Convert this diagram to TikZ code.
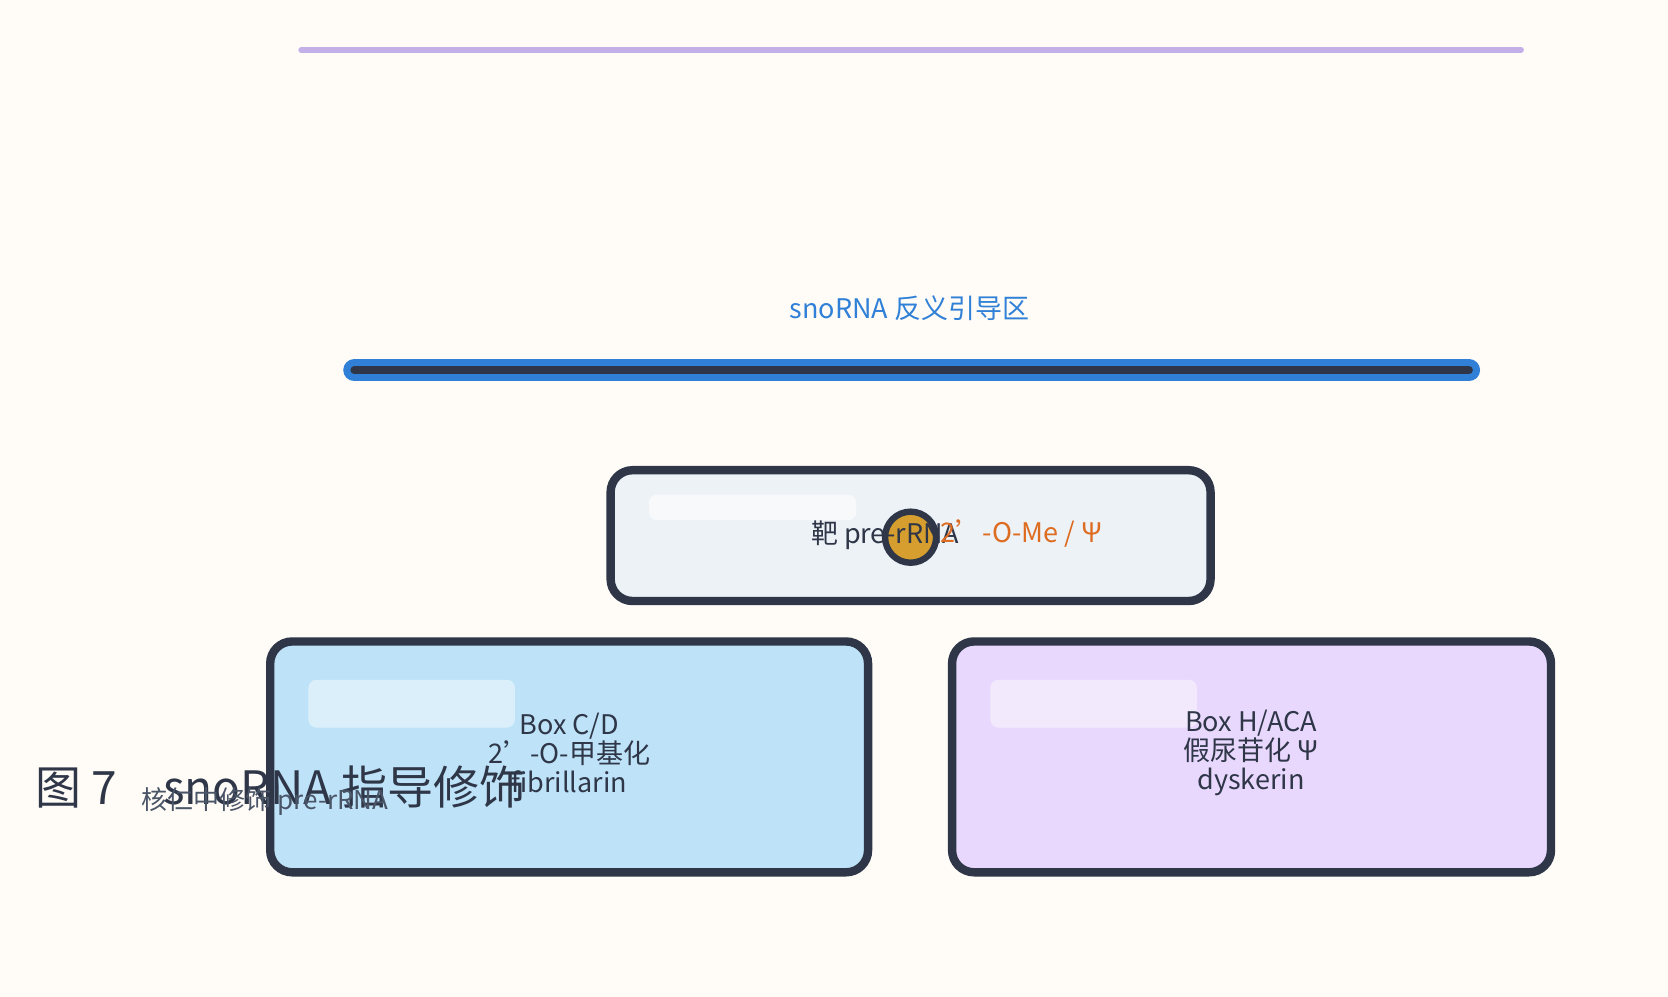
\documentclass[tikz,border=0pt]{standalone}
\usepackage{fontspec}
\setmainfont{Noto Sans CJK SC}
\usetikzlibrary{positioning}
\definecolor{bgcol}{HTML}{FFFCF7}
\definecolor{inkcol}{HTML}{2E3648}
\definecolor{guidecol}{HTML}{2F80D6}
\definecolor{lilaccol}{HTML}{C4B0E8}
\definecolor{orangecol}{HTML}{DD6B20}
\definecolor{goldcol}{HTML}{D69E2E}
\definecolor{subcol}{HTML}{4A5568}
\definecolor{targetcol}{HTML}{EDF2F7}
\definecolor{cdcol}{HTML}{BEE3F8}
\definecolor{hacacol}{HTML}{E9D8FD}
\newcommand\apos{\char"0027\relax}
\tikzset{
  card/.style={draw=inkcol, line width=4.2pt, rounded corners=11pt},
  gloss/.style={rounded corners=4pt, draw=none},
  lbl/.style={text=inkcol, font=\fontsize{13.5}{14.5}\selectfont, align=center, inner sep=0pt}
}
\begin{document}
\begin{tikzpicture}[x=0.5319pt, y=-0.5319pt]
    \fill[bgcol] (0,0) rectangle (1568,937);
    \useasboundingbox (0,0) rectangle (1568,937);
    % top rule
    \draw[lilaccol, line width=2.7pt, line cap=round] (283,47) -- (1430,47);
    % guide strand
    \node (guide) [text=guidecol, font=\fontsize{13.5}{14.5}\selectfont] at (855,290) {snoRNA 反义引导区};
    \coordinate (gl) at (333,348);
    \coordinate (gr) at (1381,348);
    \draw[guidecol, line width=11pt, line cap=round] (gl) -- (gr);
    \draw[inkcol, line width=3.8pt, line cap=round] (gl) -- (gr);
    % target box
    \draw[card, fill=targetcol] (574,442) rectangle (1138,565);
    \fill[gloss, white, opacity=0.6] (610,465) rectangle (805,489);
    \draw[inkcol, line width=3.2pt, fill=goldcol] (856,505) circle (24);
    \node (target) [lbl] at (832,503) {靶 pre-rRNA};
    \node (mark) [lbl, text=orangecol, anchor=west] at (884,502) {2\apos-O-Me / Ψ};
    % two families
    \draw[card, fill=cdcol] (254,603) rectangle (816,820);
    \fill[gloss, white, opacity=0.45] (290,639) rectangle (484,684);
    \node (cd) [lbl] at (535,708) {Box C/D\\2\apos-O-甲基化\\fibrillarin};
    \draw[card, fill=hacacol] (895,603) rectangle (1458,820);
    \fill[gloss, white, opacity=0.45] (931,639) rectangle (1125,684);
    \node (haca) [lbl] at (1176,708) {Box H/ACA\\假尿苷化 Ψ\\dyskerin};
    % caption
    \node (title) [text=inkcol, font=\fontsize{23}{24}\selectfont, anchor=west, inner sep=0pt] at (33,740) {图 7\quad snoRNA 指导修饰};
    \node (sub) [text=subcol, font=\fontsize{13}{14}\selectfont, anchor=west, inner sep=0pt] at (133,753) {核仁中修饰 pre-rRNA};
\end{tikzpicture}
\end{document}
